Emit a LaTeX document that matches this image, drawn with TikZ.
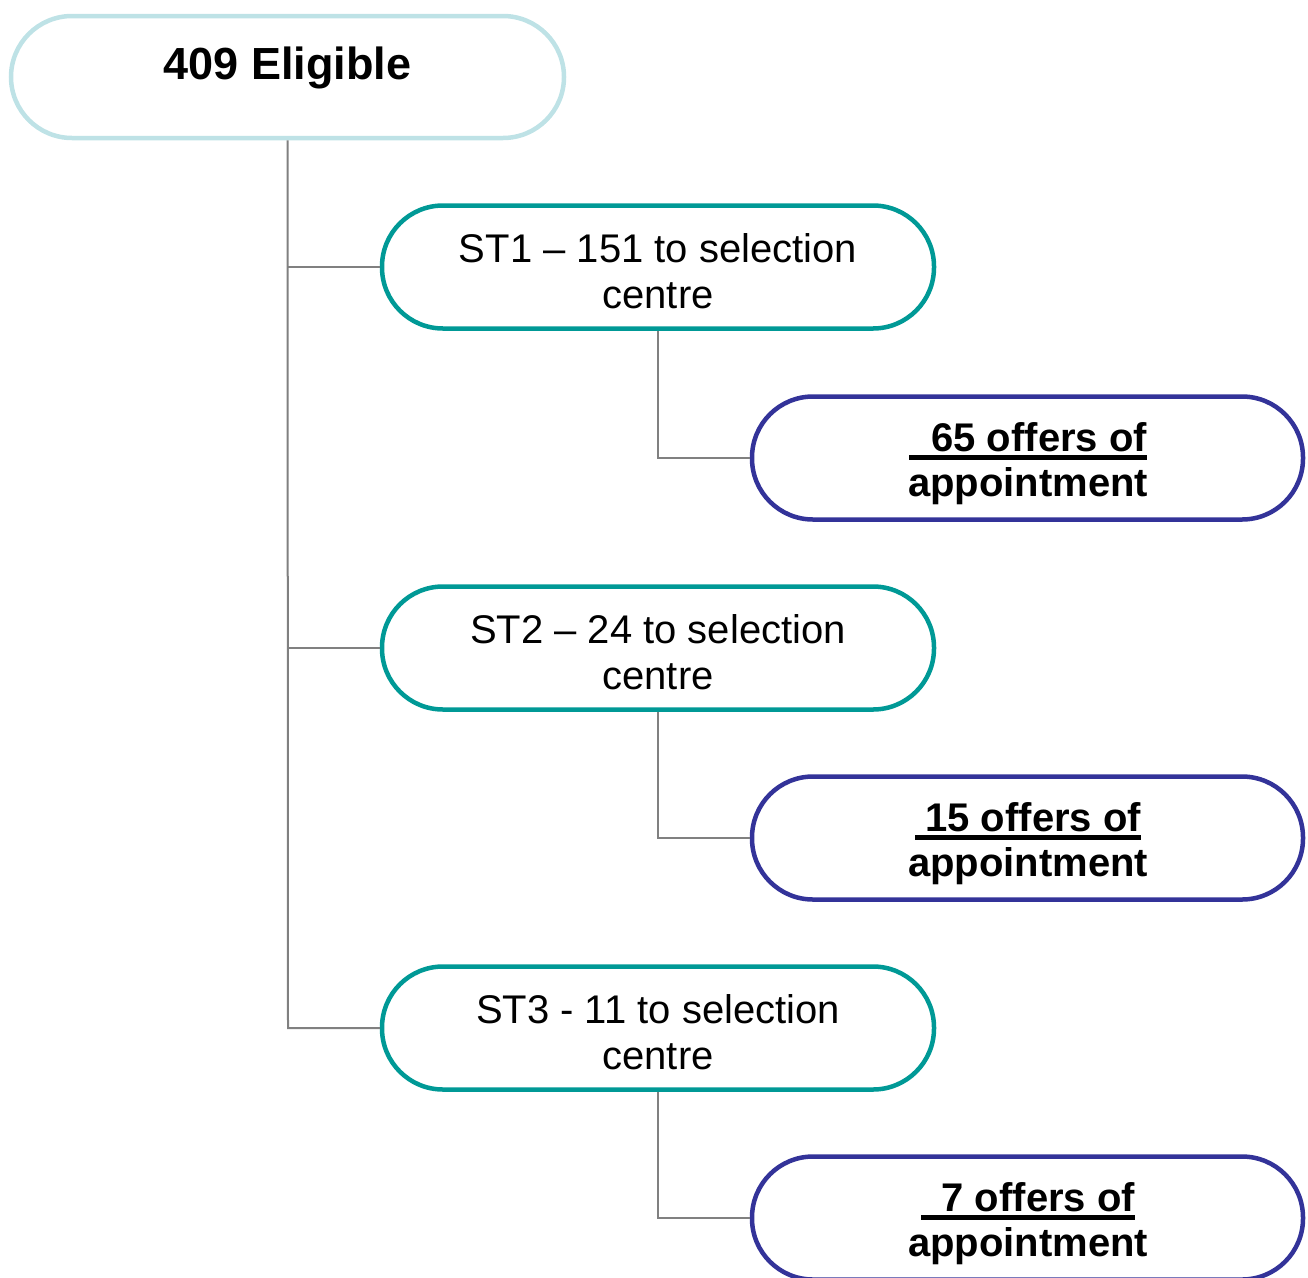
\documentclass[tikz,border=0pt]{standalone}
\usepackage{fontspec}
\setmainfont{Liberation Sans}
\definecolor{topblue}{RGB}{190,226,230}
\definecolor{stteal}{RGB}{0,153,150}
\definecolor{offerblue}{RGB}{51,51,153}
\definecolor{linkgray}{RGB}{128,128,128}
\newcommand{\offerline}[2]{\rlap{\makebox[#1][r]{#2}}\rule[-8pt]{#1}{4.5pt}}
\tikzset{
  pill/.style={draw, line width=4.5pt, fill=white, rounded corners=61pt, minimum width=552pt, minimum height=123pt, inner sep=0pt},
  topbox/.style={pill, draw=topblue, minimum width=553pt, minimum height=122pt},
  stbox/.style={pill, draw=stteal},
  offerbox/.style={pill, draw=offerblue, minimum width=551pt},
  sttext/.style={align=center, font=\fontsize{40}{46}\selectfont, inner sep=0pt},
  offertext/.style={align=center, font=\fontsize{40}{45}\selectfont\bfseries, inner sep=0pt},
  link/.style={draw=linkgray, line width=2pt}
}
\begin{document}
\begin{tikzpicture}[x=1pt,y=-1pt]
\useasboundingbox (0,0) rectangle (1308,1277);
\clip (0,0) rectangle (1308,1277);
% connector corners
\coordinate (j1) at (288,267);
\coordinate (j2) at (288,648);
\coordinate (j3) at (288,1028);
\coordinate (k1) at (658,458);
\coordinate (k2) at (658,838);
\coordinate (k3) at (658,1218);
% boxes
\node[topbox] (top) at (287.5,77) {};
\node[stbox] (st1) at (658,267) {};
\node[stbox] (st2) at (658,648) {};
\node[stbox] (st3) at (658,1028) {};
\node[offerbox] (of1) at (1027.5,458) {};
\node[offerbox] (of2) at (1027.5,838) {};
\node[offerbox] (of3) at (1027.5,1218) {};
\draw[link] (top.south) -- (j3) -- (st3.west);
\draw[link] (j1) -- (st1.west);
\draw[link] (j2) -- (st2.west);
\draw[link] (st1.south) -- (k1) -- (of1.west);
\draw[link] (st2.south) -- (k2) -- (of2.west);
\draw[link] (st3.south) -- (k3) -- (of3.west);
% texts
\node[font=\fontsize{45}{54}\selectfont\bfseries, inner sep=0pt, anchor=base] (toptext) at (287.5,79) {409 Eligible};
\node[sttext] (st1text) at (658,271) {ST1 – 151 to selection\\centre};
\node[sttext] (st2text) at (658,652) {ST2 – 24 to selection\\centre};
\node[sttext] (st3text) at (658,1032) {ST3 - 11 to selection\\centre};
\node[offertext] (of1text) at (1028,464) {\offerline{238pt}{65 offers of}\\appointment};
\node[offertext] (of2text) at (1028,844) {\offerline{226pt}{15 offers of}\\appointment};
\node[offertext] (of3text) at (1028,1224) {\offerline{214pt}{7 offers of}\\appointment};
\end{tikzpicture}
\end{document}
